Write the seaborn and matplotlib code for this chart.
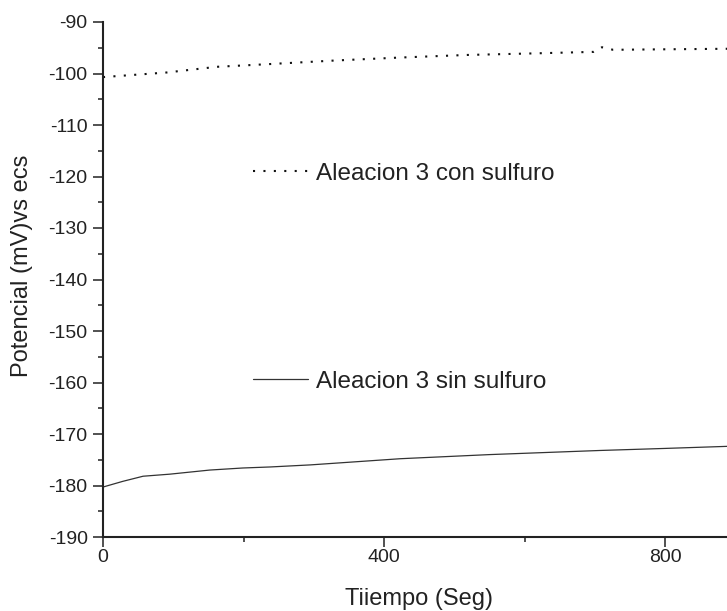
import matplotlib
matplotlib.use("Agg")
import matplotlib.pyplot as plt
from matplotlib.ticker import MultipleLocator
import seaborn as sns
import pandas as pd

# Potential vs time for alloy 3, with and without sulphide
t_con = [0, 91, 162, 233, 327, 423, 518, 612, 698, 710, 726, 800, 888]
v_con = [-100.7, -99.8, -98.7, -98.2, -97.5, -96.9, -96.4, -96.1, -95.8, -94.9, -95.4, -95.3, -95.2]

t_sin = [0, 28, 57, 95, 152, 199, 238, 295, 423, 550, 707, 800, 888]
v_sin = [-180.3, -179.2, -178.2, -177.8, -177.0, -176.6, -176.4, -176.0, -174.8, -174.0, -173.2, -172.8, -172.4]

label_con = "Aleacion 3 con sulfuro"
label_sin = "Aleacion 3 sin sulfuro"
x_label = "Tiiempo (Seg)"
y_label = "Potencial (mV)vs ecs"

df_con = pd.DataFrame({"t": t_con, "v": v_con})
df_sin = pd.DataFrame({"t": t_sin, "v": v_sin})

sns.set_style("ticks")
plt.rcParams["font.family"] = ["Liberation Sans", "DejaVu Sans"]
plt.rcParams["axes.unicode_minus"] = False

fig = plt.figure(figsize=(7.27, 6.11), dpi=100)
ax = fig.add_axes([103 / 727, 74 / 611, 624 / 727, 515 / 611])

sns.lineplot(data=df_con, x="t", y="v", ax=ax, color="#111111",
             linewidth=1.5, linestyle=(0, (1, 4)), estimator=None, sort=False)
sns.lineplot(data=df_sin, x="t", y="v", ax=ax, color="#333333",
             linewidth=0.9, estimator=None, sort=False)

h_con, h_sin = ax.lines[0], ax.lines[1]

ax.set_xlim(0, 888)
ax.set_ylim(-190, -90)

ax.xaxis.set_major_locator(MultipleLocator(400))
ax.xaxis.set_minor_locator(MultipleLocator(200))
ax.yaxis.set_major_locator(MultipleLocator(10))
ax.yaxis.set_minor_locator(MultipleLocator(5))

ax.tick_params(which="major", direction="out", length=7, width=1.1,
               color="#222222", labelsize=14, labelcolor="#222222")
ax.tick_params(which="minor", direction="out", length=3.8, width=1.1,
               color="#222222")
ax.tick_params(axis="x", which="major", pad=2)
ax.tick_params(axis="y", which="major", pad=4)

for side in ("top", "right"):
    ax.spines[side].set_visible(False)
for side in ("left", "bottom"):
    ax.spines[side].set_linewidth(1.5)
    ax.spines[side].set_color("#222222")

ax.set_xlabel(x_label, fontsize=17, color="#222222")
ax.set_ylabel(y_label, fontsize=17, color="#222222")
ax.xaxis.set_label_coords(0.506, -0.099)
ax.yaxis.set_label_coords(-0.112, 0.526)

leg_kw = dict(frameon=False, fontsize=17.5, loc="center left", borderpad=0,
              borderaxespad=0, handlelength=2.25, handletextpad=0.33,
              labelcolor="#222222")
leg1 = ax.legend(handles=[h_con], labels=[label_con],
                 bbox_to_anchor=(0.2404, 0.705), **leg_kw)
ax.add_artist(leg1)
ax.legend(handles=[h_sin], labels=[label_sin],
          bbox_to_anchor=(0.2404, 0.301), **leg_kw)

fig.savefig("out.png", dpi=100)
